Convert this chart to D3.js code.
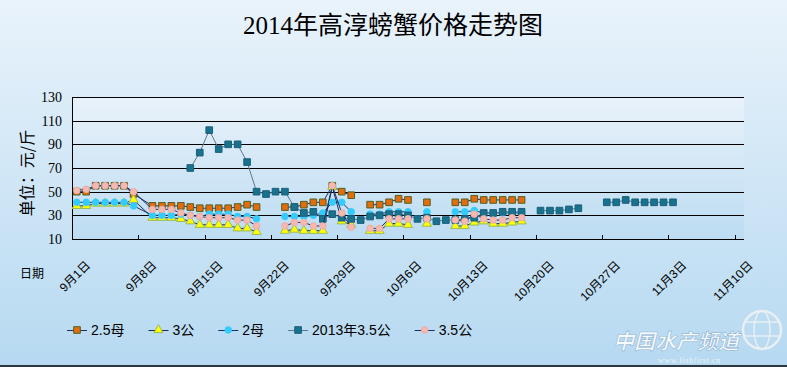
<!DOCTYPE html>
<html>
<head>
<meta charset="utf-8">
<script src="https://cdn.jsdelivr.net/npm/d3@7"></script>
<style>
  html, body { margin: 0; padding: 0; background: #fff; }
  svg { display: block; }
</style>
</head>
<body>
<div id="chart"></div>
<script>
// rows of the sheet (9/8 has no row at all, so lines run across it)
const dates = [
  '9/1', '9/2', '9/3', '9/4', '9/5', '9/6', '9/7',
  '9/9', '9/10', '9/11', '9/12', '9/13', '9/14',
  '9/15', '9/16', '9/17', '9/18', '9/19', '9/20', '9/21',
  '9/22', '9/23', '9/24', '9/25', '9/26', '9/27', '9/28',
  '9/29', '9/30', '10/1', '10/2', '10/3', '10/4', '10/5',
  '10/6', '10/7', '10/8', '10/9', '10/10', '10/11', '10/12',
  '10/13', '10/14', '10/15', '10/16', '10/17', '10/18', '10/19',
  '10/20', '10/21', '10/22', '10/23', '10/24', '10/25', '10/26',
  '10/27', '10/28', '10/29', '10/30', '10/31', '11/1', '11/2',
  '11/3'
];

const female25 = [
  50, 50, 55, 55, 55, 55, 48,
  38, 38, 38, 38, 37, 36,
  36, 36, 36, 37, 39, 37, null,
  null, 37, 37, 39, 41, 41, 55,
  50, 47, null, 39, 39, 41, 44,
  43, null, 41, null, null, 41, 41,
  44, 43, 43, 43, 43, 43, null,
  null, null, null, null, null, null, null,
  null, null, null, null, null, null, null,
  null
];

const male3 = [
  38, 38, 40, 40, 40, 40, 43,
  28, 28, 28, 27, 25, 22,
  22, 22, 22, 19, 19, 16, null,
  null, 17, 18, 17, 17, 17, 54,
  25, 22, null, 17, 17, 23, 23,
  22, null, 23, null, null, 21, 21,
  24, 25, 23, 23, 24, 25, null,
  null, null, null, null, null, null, null,
  null, null, null, null, null, null, null,
  null
];

const female2 = [
  41, 41, 41, 41, 41, 41, 38,
  30, 30, 30, 31, 30, 29,
  31, 31, 31, 29, 29, 27, null,
  null, 29, 29, 29, 30, 32, 41,
  41, 33, null, 31, 31, 33, 33,
  33, null, 33, null, null, 33, 33,
  34, 32, 32, 32, 32, 32, null,
  null, null, null, null, null, null, null,
  null, null, null, null, null, null, null,
  null
];

const male35y2013 = [
  null, null, null, null, null, null, null,
  null, null, null, null, 70, 83,
  102, 86, 90, 90, 75, 50, 48,
  50, 50, 37, 32, 33, 27, 31,
  28, 27, 26, 29, 30, 31, 31,
  30, 27, 28, 25, 26, 26, 27,
  28, 32, 32, 33, 33, 33, null,
  34, 34, 34, 35, 36, null, null,
  41, 41, 43, 41, 41, 41, 41,
  41
];

const male35 = [
  51, 52, 55, 55, 55, 55, 50,
  35, 35, 35, 32, 30, 29,
  28, 28, 28, 26, 26, 21, null,
  null, 21, 24, 24, 21, 21, 55,
  32, 20, null, 19, 19, 27, 27,
  27, null, 27, null, null, 26, 25,
  31, 27, 26, 26, 28, 28, null,
  null, null, null, null, null, null, null,
  null, null, null, null, null, null, null,
  null
];

const seriesNames = ['2.5母', '3公', '2母', '2013年3.5公', '3.5公'];
const tickDays = ['9/1', '9/8', '9/15', '9/22', '9/29', '10/6', '10/13', '10/20', '10/27', '11/3', '11/10'];
const yTicks = [10, 30, 50, 70, 90, 110, 130];

const W = 787, H = 367;
const plot = { left: 72, right: 744, top: 97, bottom: 239 };
const parseDay = d3.utcParse('%Y/%m/%d');
const day = s => parseDay('2014/' + s);

const looks = [
  { symbol: d3.symbolSquare, size: 44, fill: '#e46c0a', stroke: '#4f6228', line: '#1b2f66' },
  { symbol: d3.symbolTriangle, size: 36, fill: '#ffff00', stroke: '#9bbb59', line: '#1b2f66' },
  { symbol: d3.symbolCircle, size: 34, fill: '#33ccff', stroke: '#33ccff', line: '#1b2f66' },
  { symbol: d3.symbolSquare, size: 44, fill: '#17728f', stroke: '#1d5f78', line: '#5a7890' },
  { symbol: d3.symbolCircle, size: 34, fill: '#f6b9b0', stroke: '#f0aaa0', line: '#1b2f66' },
];

const values = [female25, male3, female2, male35y2013, male35];
const series = seriesNames.map((name, i) => ({
  name,
  look: looks[i],
  points: dates.map((s, j) => ({ date: day(s), v: values[i][j] })),
}));

const svg = d3.select('#chart').append('svg')
  .attr('width', W)
  .attr('height', H)
  .attr('viewBox', `0 0 ${W} ${H}`);

const defs = svg.append('defs');
const bg = defs.append('linearGradient').attr('id', 'bg').attr('x1', 0).attr('y1', 0).attr('x2', 0).attr('y2', 1);
bg.append('stop').attr('offset', '0%').attr('stop-color', '#e9f3fb');
bg.append('stop').attr('offset', '100%').attr('stop-color', '#b6d9f1');
const pg = defs.append('linearGradient').attr('id', 'pg').attr('x1', 0).attr('y1', 0).attr('x2', 0).attr('y2', 1);
pg.append('stop').attr('offset', '0%').attr('stop-color', '#e9f2fa');
pg.append('stop').attr('offset', '100%').attr('stop-color', '#bcdcf2');

svg.append('rect').attr('width', W).attr('height', H).attr('fill', 'url(#bg)');
svg.append('rect')
  .attr('x', plot.left).attr('y', plot.top)
  .attr('width', plot.right - plot.left).attr('height', plot.bottom - plot.top)
  .attr('fill', 'url(#pg)');

const x = d3.scaleUtc()
  .domain([day('9/1'), day('11/11')])
  .range([plot.left, plot.right]);
const y = d3.scaleLinear()
  .domain([10, 130])
  .range([plot.bottom, plot.top]);
// points sit in the middle of their day
const px = d => x(d3.utcHour.offset(d, 12));

svg.selectAll('.grid')
  .data(yTicks)
  .join('line')
  .attr('class', 'grid')
  .attr('x1', plot.left)
  .attr('x2', plot.right)
  .attr('y1', d => Math.round(y(d)) + 0.5)
  .attr('y2', d => Math.round(y(d)) + 0.5)
  .attr('stroke', '#000')
  .attr('stroke-width', 1);

svg.append('line')
  .attr('x1', plot.left + 0.5).attr('x2', plot.left + 0.5)
  .attr('y1', plot.top).attr('y2', plot.bottom + 0.5)
  .attr('stroke', '#000');

const ticks = tickDays.map(day);
svg.selectAll('.xtick')
  .data(ticks)
  .join('line')
  .attr('class', 'xtick')
  .attr('x1', d => Math.round(x(d)) + 0.5)
  .attr('x2', d => Math.round(x(d)) + 0.5)
  .attr('y1', plot.bottom - 4)
  .attr('y2', plot.bottom)
  .attr('stroke', '#000');

svg.selectAll('.xlabel')
  .data(ticks)
  .join('text')
  .attr('class', 'xlabel')
  .attr('transform', d => `translate(${x(d) + 19},${266}) rotate(-45)`)
  .attr('text-anchor', 'end')
  .attr('font-family', '"Liberation Sans", "Noto Sans CJK SC", sans-serif')
  .attr('font-size', '12px')
  .attr('fill', '#000')
  .text(d => `${d.getUTCMonth() + 1}月${d.getUTCDate()}日`);

svg.selectAll('.ylabel')
  .data(yTicks)
  .join('text')
  .attr('class', 'ylabel')
  .attr('x', 62)
  .attr('y', d => y(d) + 5)
  .attr('text-anchor', 'end')
  .attr('font-family', '"Liberation Serif", serif')
  .attr('font-size', '14px')
  .attr('fill', '#000')
  .text(d => d);

const line = d3.line()
  .defined(d => d.v !== null)
  .x(d => px(d.date))
  .y(d => y(d.v));

const layers = svg.selectAll('.series')
  .data(series)
  .join('g')
  .attr('class', 'series');

layers.append('path')
  .attr('d', d => line(d.points))
  .attr('fill', 'none')
  .attr('stroke', d => d.look.line)
  .attr('stroke-width', 1);

layers.each(function (s) {
  d3.select(this).selectAll('.mark')
    .data(s.points.filter(p => p.v !== null))
    .join('path')
    .attr('class', 'mark')
    .attr('transform', p => `translate(${px(p.date)},${y(p.v)})`)
    .attr('d', d3.symbol().type(s.look.symbol).size(s.look.size))
    .attr('fill', s.look.fill)
    .attr('stroke', s.look.stroke)
    .attr('stroke-width', 1);
});

// title, axis names
svg.append('text')
  .attr('x', 393)
  .attr('y', 34)
  .attr('text-anchor', 'middle')
  .attr('font-family', '"Liberation Serif", "Noto Sans CJK SC", serif')
  .attr('font-size', '25px')
  .attr('fill', '#000')
  .text('2014年高淳螃蟹价格走势图');

svg.append('text')
  .attr('transform', 'translate(33,173) rotate(-90)')
  .attr('text-anchor', 'middle')
  .attr('font-family', '"Noto Sans CJK SC", sans-serif')
  .attr('font-size', '16px')
  .attr('fill', '#000')
  .text('单位：元/斤');

svg.append('text')
  .attr('x', 32)
  .attr('y', 278)
  .attr('text-anchor', 'middle')
  .attr('font-family', '"Noto Sans CJK SC", sans-serif')
  .attr('font-size', '12px')
  .attr('fill', '#000')
  .text('日期');

// legend
let lx = 67;
const ly = 330;
series.forEach(s => {
  const item = svg.append('g');
  item.append('line')
    .attr('x1', lx).attr('x2', lx + 20)
    .attr('y1', ly + 0.5).attr('y2', ly + 0.5)
    .attr('stroke', s.look.line);
  item.append('path')
    .attr('transform', `translate(${lx + 10},${ly})`)
    .attr('d', d3.symbol().type(s.look.symbol).size(s.look.size))
    .attr('fill', s.look.fill)
    .attr('stroke', s.look.stroke);
  const t = item.append('text')
    .attr('x', lx + 24)
    .attr('y', ly + 5)
    .attr('font-family', '"Liberation Sans", "Noto Sans CJK SC", sans-serif')
    .attr('font-size', '14px')
    .attr('fill', '#000')
    .text(s.name);
  lx += 24 + t.node().getComputedTextLength() + 24;
});

// watermark
const wm = svg.append('g').attr('opacity', 0.9);
wm.append('circle')
  .attr('cx', 762).attr('cy', 330).attr('r', 19)
  .attr('fill', 'none').attr('stroke', '#eef2f5').attr('stroke-width', 2.5);
wm.append('ellipse')
  .attr('cx', 762).attr('cy', 330).attr('rx', 8).attr('ry', 19)
  .attr('fill', 'none').attr('stroke', '#eef2f5').attr('stroke-width', 1.5);
wm.append('path')
  .attr('d', 'M745,322 L779,322 M744,336 L780,336')
  .attr('stroke', '#eef2f5').attr('stroke-width', 1.5);
wm.append('text')
  .attr('x', 613).attr('y', 349)
  .attr('font-family', '"Noto Sans CJK SC", sans-serif')
  .attr('font-size', '21px')
  .attr('font-style', 'italic')
  .attr('font-weight', 700)
  .attr('fill', '#ffffff')
  .attr('stroke', '#8fb3d3')
  .attr('stroke-width', 0.6)
  .text('中国水产频道');
wm.append('text')
  .attr('x', 658).attr('y', 363)
  .attr('font-family', '"Liberation Serif", serif')
  .attr('font-size', '8px')
  .attr('letter-spacing', '0.6px')
  .attr('fill', '#f3f8fc')
  .text('www.fishfirst.cn');

svg.append('line')
  .attr('x1', 0).attr('x2', W)
  .attr('y1', H - 1).attr('y2', H - 1)
  .attr('stroke', '#000')
  .attr('stroke-width', 1.5);
</script>
</body>
</html>
